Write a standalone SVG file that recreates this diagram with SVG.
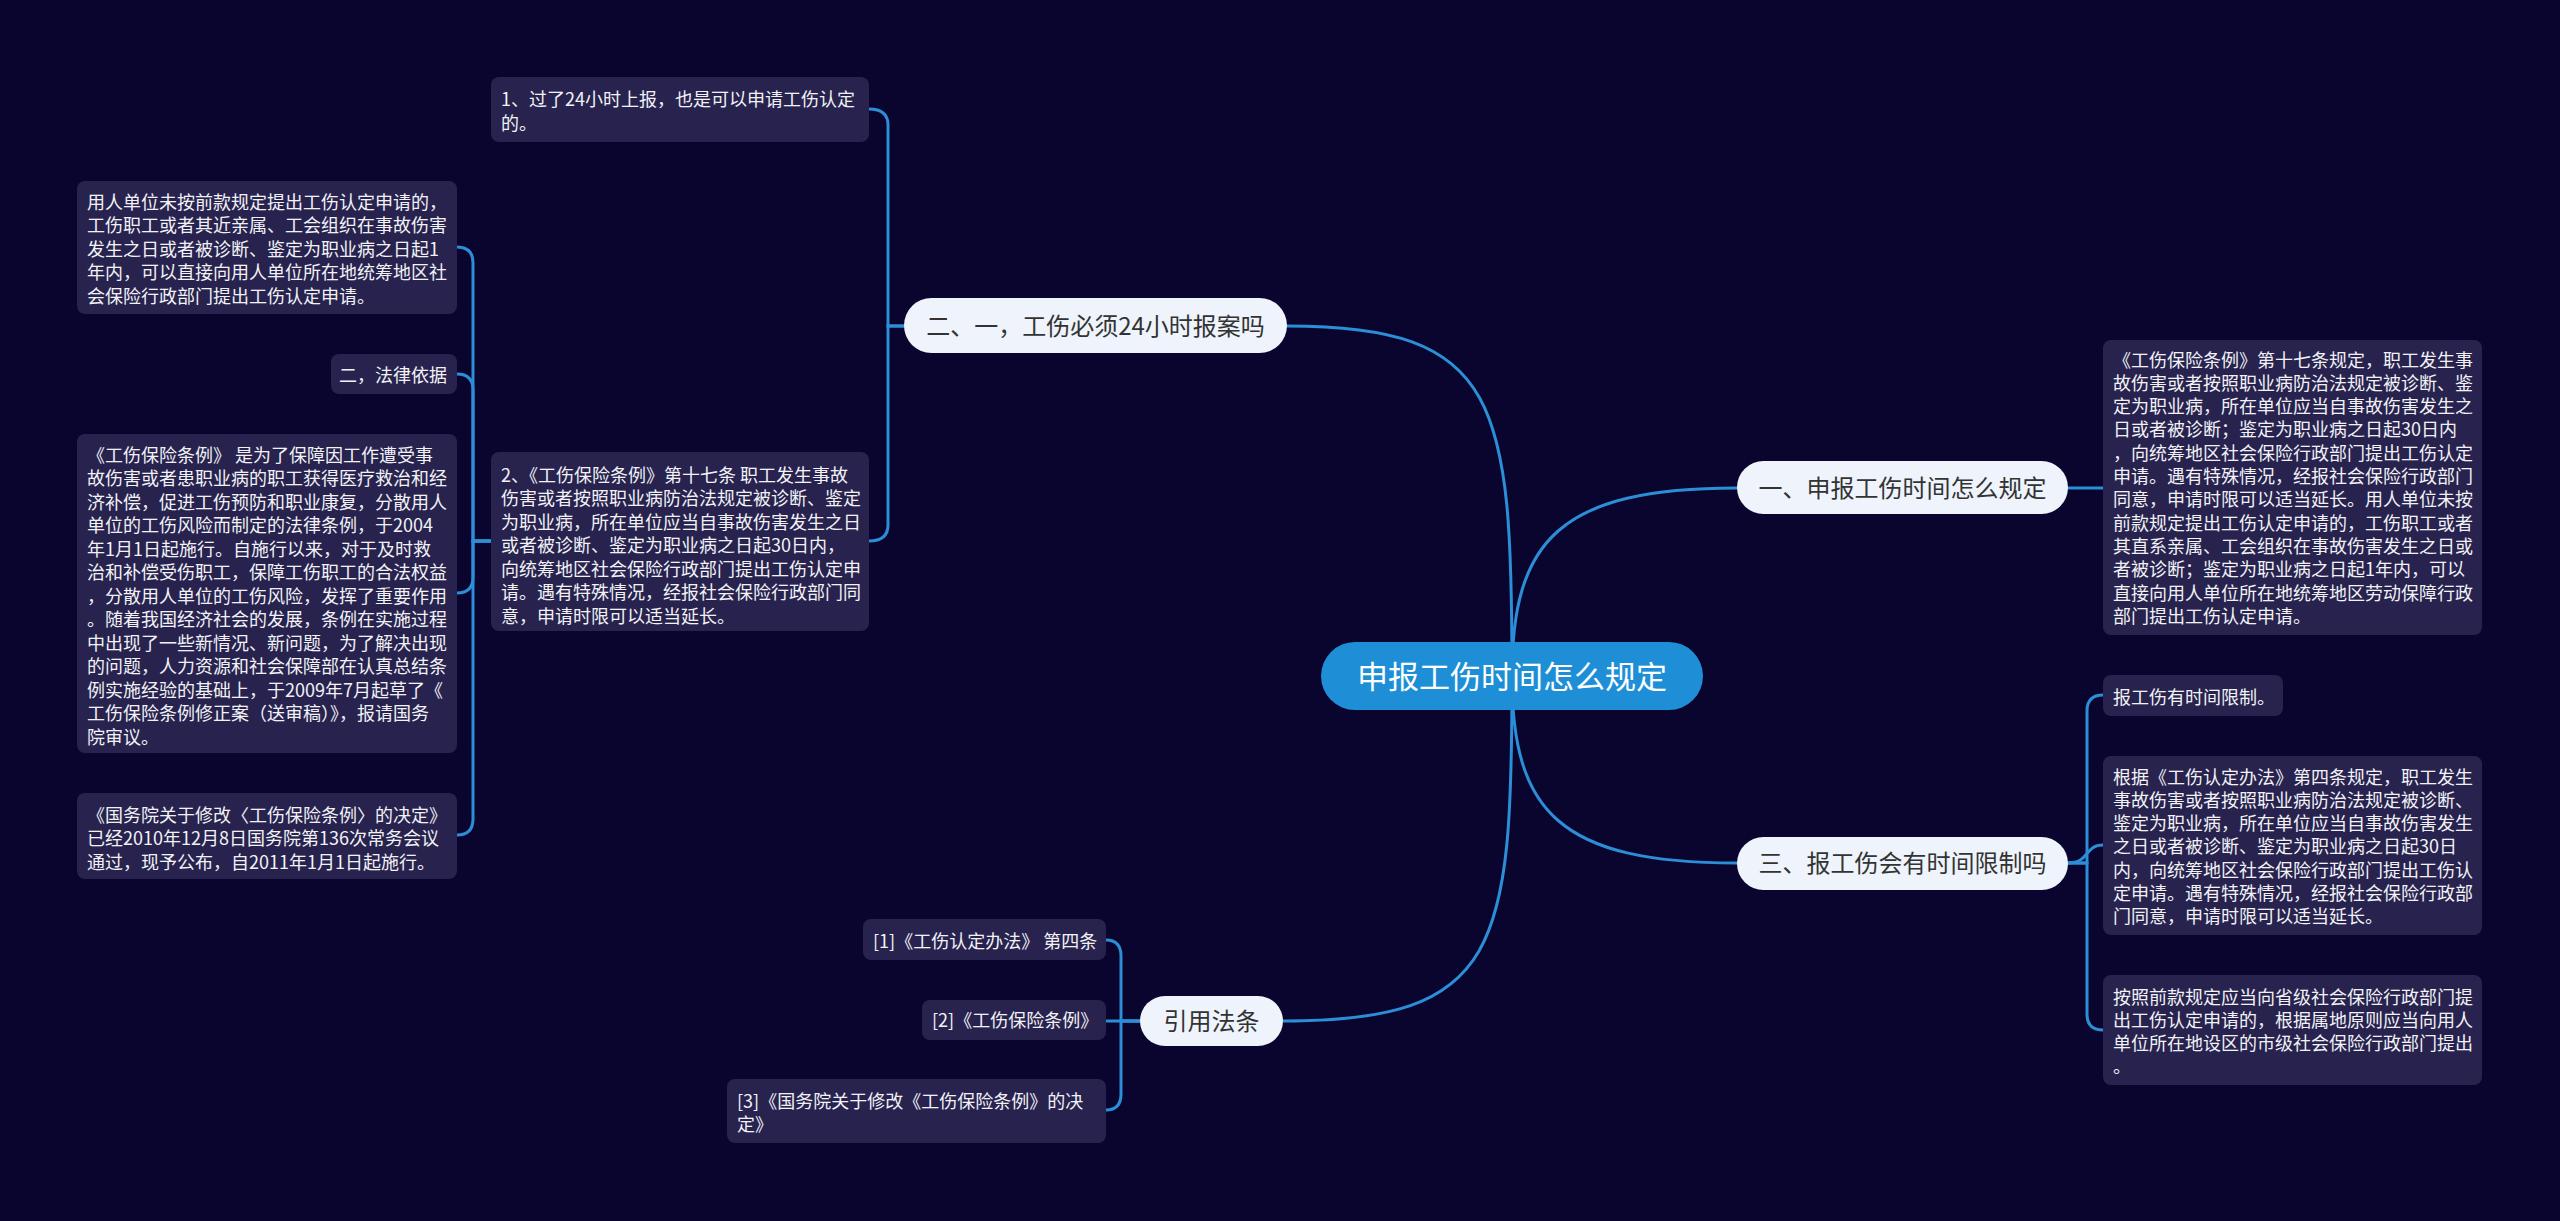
<svg xmlns="http://www.w3.org/2000/svg" width="2560" height="1221" viewBox="0 0 2560 1221">
<style>
.bg{fill:#0a052e}
.box{fill:#27234e}
.t{font-family:"Noto Sans CJK SC","Noto Sans",sans-serif;font-size:18px;fill:#f2f2f6}
.pill{fill:#eef3fc}
.pt{font-family:"Noto Sans CJK SC","Noto Sans",sans-serif;font-size:24px;fill:#333333;text-anchor:middle}
.root{fill:#1e8fd6}
.rt{font-family:"Noto Sans CJK SC","Noto Sans",sans-serif;font-size:31px;fill:#ffffff;text-anchor:middle}
.conn path{fill:none;stroke:#2b8ed6;stroke-width:3;stroke-linecap:round}
</style>
<rect class="bg" x="0" y="0" width="2560" height="1221"/>

<g id="connectors" class="conn">
  <path d="M1512,676 C1512,400 1500,326 1287,326"/>
  <path d="M1512,676 C1512,540 1560,488 1737,488"/>
  <path d="M1512,676 C1512,812 1560,863 1737,863"/>
  <path d="M1512,676 C1512,950 1500,1021 1283,1021"/>
  <path d="M904,326 H888 V125 Q888,109 869,109"/>
  <path d="M904,326 H888 V525 Q888,541 869,541"/>
  <path d="M491,541 H473 V263 Q473,247 457,247"/>
  <path d="M491,541 H473 V390 Q473,374 457,374"/>
  <path d="M491,541 H473 V577 Q473,593 457,593"/>
  <path d="M491,541 H473 V819 Q473,835 457,835"/>
  <path d="M2068,488 H2103"/>
  <path d="M2068,863 H2087 V711 Q2087,695 2103,695"/>
  <path d="M2068,863 C2090,863 2084,845 2103,845"/>
  <path d="M2068,863 H2087 V1014 Q2087,1030 2103,1030"/>
  <path d="M1140,1021 H1121 V956 Q1121,940 1106,940"/>
  <path d="M1140,1021 H1106"/>
  <path d="M1140,1021 H1121 V1094 Q1121,1110 1106,1110"/>
</g>

<g id="root">
  <rect class="root" x="1321" y="642" width="382" height="68" rx="34"/>
  <text class="rt" x="1512" y="688">申报工伤时间怎么规定</text>
</g>

<g id="b-24h">
  <rect class="pill" x="904" y="298" width="383" height="55" rx="27.5"/>
  <text class="pt" x="1095.5" y="335">二、一，工伤必须24小时报案吗</text>
</g>
<g id="b-shenbao">
  <rect class="pill" x="1737" y="461" width="331" height="53" rx="26.5"/>
  <text class="pt" x="1902.5" y="497">一、申报工伤时间怎么规定</text>
</g>
<g id="b-xianzhi">
  <rect class="pill" x="1737" y="837" width="331" height="53" rx="26.5"/>
  <text class="pt" x="1902.5" y="872">三、报工伤会有时间限制吗</text>
</g>
<g id="b-yinyong">
  <rect class="pill" x="1140" y="996" width="143" height="50" rx="25"/>
  <text class="pt" x="1211.5" y="1030">引用法条</text>
</g>

<g id="n-1">
  <rect class="box" x="491" y="77" width="378" height="65" rx="8"/>
  <text class="t" x="501" y="105.5">1、过了24小时上报，也是可以申请工伤认定</text>
  <text class="t" x="501" y="129.5">的。</text>
</g>

<g id="n-2">
  <rect class="box" x="491" y="452" width="378" height="179" rx="8"/>
  <text class="t" x="501" y="481.5">2、《工伤保险条例》第十七条 职工发生事故</text>
  <text class="t" x="501" y="505">伤害或者按照职业病防治法规定被诊断、鉴定</text>
  <text class="t" x="501" y="528.5">为职业病，所在单位应当自事故伤害发生之日</text>
  <text class="t" x="501" y="552">或者被诊断、鉴定为职业病之日起30日内，</text>
  <text class="t" x="501" y="575.5">向统筹地区社会保险行政部门提出工伤认定申</text>
  <text class="t" x="501" y="599">请。遇有特殊情况，经报社会保险行政部门同</text>
  <text class="t" x="501" y="622.5">意，申请时限可以适当延长。</text>
</g>

<g id="n-yongren">
  <rect class="box" x="77" y="181" width="380" height="133" rx="8"/>
  <text class="t" x="87" y="208.5">用人单位未按前款规定提出工伤认定申请的，</text>
  <text class="t" x="87" y="232">工伤职工或者其近亲属、工会组织在事故伤害</text>
  <text class="t" x="87" y="255.5">发生之日或者被诊断、鉴定为职业病之日起1</text>
  <text class="t" x="87" y="279">年内，可以直接向用人单位所在地统筹地区社</text>
  <text class="t" x="87" y="302.5">会保险行政部门提出工伤认定申请。</text>
</g>

<g id="n-falv">
  <rect class="box" x="331" y="354" width="126" height="40" rx="8"/>
  <text class="t" x="339" y="381.5">二，法律依据</text>
</g>

<g id="n-tiaoli">
  <rect class="box" x="77" y="434" width="380" height="319" rx="8"/>
  <text class="t" x="87" y="461.5">《工伤保险条例》 是为了保障因工作遭受事</text>
  <text class="t" x="87" y="485">故伤害或者患职业病的职工获得医疗救治和经</text>
  <text class="t" x="87" y="508.5">济补偿，促进工伤预防和职业康复，分散用人</text>
  <text class="t" x="87" y="532">单位的工伤风险而制定的法律条例，于2004</text>
  <text class="t" x="87" y="555.5">年1月1日起施行。自施行以来，对于及时救</text>
  <text class="t" x="87" y="579">治和补偿受伤职工，保障工伤职工的合法权益</text>
  <text class="t" x="87" y="602.5">，分散用人单位的工伤风险，发挥了重要作用</text>
  <text class="t" x="87" y="626">。随着我国经济社会的发展，条例在实施过程</text>
  <text class="t" x="87" y="649.5">中出现了一些新情况、新问题，为了解决出现</text>
  <text class="t" x="87" y="673">的问题，人力资源和社会保障部在认真总结条</text>
  <text class="t" x="87" y="696.5">例实施经验的基础上，于2009年7月起草了《</text>
  <text class="t" x="87" y="720">工伤保险条例修正案（送审稿）》，报请国务</text>
  <text class="t" x="87" y="743.5">院审议。</text>
</g>

<g id="n-guowuyuan">
  <rect class="box" x="77" y="793" width="380" height="86" rx="8"/>
  <text class="t" x="87" y="821.5">《国务院关于修改〈工伤保险条例〉的决定》</text>
  <text class="t" x="87" y="845">已经2010年12月8日国务院第136次常务会议</text>
  <text class="t" x="87" y="868.5">通过，现予公布，自2011年1月1日起施行。</text>
</g>

<g id="n-r1">
  <rect class="box" x="2103" y="340" width="379" height="295" rx="8"/>
  <text class="t" x="2113" y="366.5">《工伤保险条例》第十七条规定，职工发生事</text>
  <text class="t" x="2113" y="389.8">故伤害或者按照职业病防治法规定被诊断、鉴</text>
  <text class="t" x="2113" y="413.1">定为职业病，所在单位应当自事故伤害发生之</text>
  <text class="t" x="2113" y="436.4">日或者被诊断；鉴定为职业病之日起30日内</text>
  <text class="t" x="2113" y="459.7">，向统筹地区社会保险行政部门提出工伤认定</text>
  <text class="t" x="2113" y="483">申请。遇有特殊情况，经报社会保险行政部门</text>
  <text class="t" x="2113" y="506.3">同意，申请时限可以适当延长。用人单位未按</text>
  <text class="t" x="2113" y="529.6">前款规定提出工伤认定申请的，工伤职工或者</text>
  <text class="t" x="2113" y="552.9">其直系亲属、工会组织在事故伤害发生之日或</text>
  <text class="t" x="2113" y="576.2">者被诊断；鉴定为职业病之日起1年内，可以</text>
  <text class="t" x="2113" y="599.5">直接向用人单位所在地统筹地区劳动保障行政</text>
  <text class="t" x="2113" y="622.8">部门提出工伤认定申请。</text>
</g>

<g id="n-r2">
  <rect class="box" x="2103" y="675" width="180" height="41" rx="8"/>
  <text class="t" x="2113" y="703.5">报工伤有时间限制。</text>
</g>

<g id="n-r3">
  <rect class="box" x="2103" y="756" width="379" height="179" rx="8"/>
  <text class="t" x="2113" y="783.5">根据《工伤认定办法》第四条规定，职工发生</text>
  <text class="t" x="2113" y="806.8">事故伤害或者按照职业病防治法规定被诊断、</text>
  <text class="t" x="2113" y="830.1">鉴定为职业病，所在单位应当自事故伤害发生</text>
  <text class="t" x="2113" y="853.4">之日或者被诊断、鉴定为职业病之日起30日</text>
  <text class="t" x="2113" y="876.7">内，向统筹地区社会保险行政部门提出工伤认</text>
  <text class="t" x="2113" y="900">定申请。遇有特殊情况，经报社会保险行政部</text>
  <text class="t" x="2113" y="923.3">门同意，申请时限可以适当延长。</text>
</g>

<g id="n-r4">
  <rect class="box" x="2103" y="975" width="379" height="110" rx="8"/>
  <text class="t" x="2113" y="1003.5">按照前款规定应当向省级社会保险行政部门提</text>
  <text class="t" x="2113" y="1026.8">出工伤认定申请的，根据属地原则应当向用人</text>
  <text class="t" x="2113" y="1050.1">单位所在地设区的市级社会保险行政部门提出</text>
  <text class="t" x="2113" y="1073.4">。</text>
</g>

<g id="n-ref1">
  <rect class="box" x="863" y="919" width="243" height="41" rx="8"/>
  <text class="t" x="873" y="947.5">[1]《工伤认定办法》 第四条</text>
</g>
<g id="n-ref2">
  <rect class="box" x="922" y="1000" width="184" height="40" rx="8"/>
  <text class="t" x="932" y="1027">[2]《工伤保险条例》</text>
</g>
<g id="n-ref3">
  <rect class="box" x="727" y="1079" width="379" height="64" rx="8"/>
  <text class="t" x="737" y="1107.5">[3]《国务院关于修改《工伤保险条例》的决</text>
  <text class="t" x="737" y="1130.5">定》</text>
</g>
</svg>
